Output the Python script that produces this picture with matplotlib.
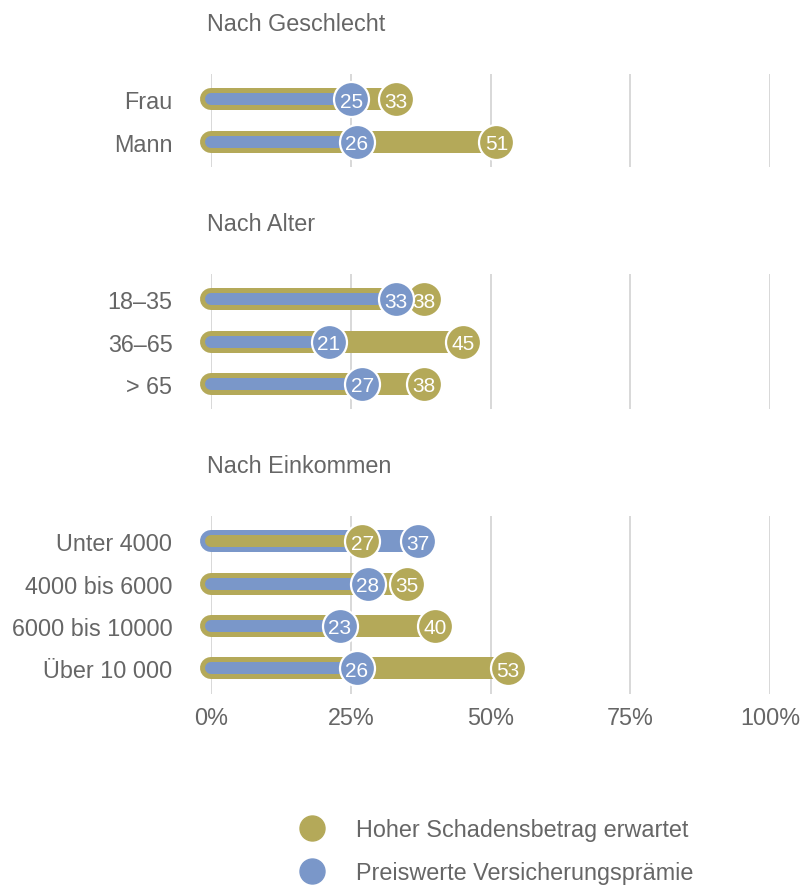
import matplotlib
matplotlib.use("Agg")
import matplotlib.pyplot as plt
from matplotlib.lines import Line2D

# --- data -----------------------------------------------------------------
group_titles = ["Nach Geschlecht", "Nach Alter", "Nach Einkommen"]
categories = [
    ["Frau", "Mann"],
    ["18–35", "36–65", "> 65"],
    ["Unter 4000", "4000 bis 6000", "6000 bis 10000", "Über 10 000"],
]
schaden = [[33, 51], [38, 45, 38], [27, 35, 40, 53]]      # Hoher Schadensbetrag erwartet
praemie = [[25, 26], [33, 21, 27], [37, 28, 23, 26]]      # Preiswerte Versicherungsprämie
series_names = ["Hoher Schadensbetrag erwartet", "Preiswerte Versicherungsprämie"]
x_ticks = [0, 25, 50, 75, 100]
x_ticklabels = ["0%", "25%", "50%", "75%", "100%"]

# --- style ----------------------------------------------------------------
GOLD = "#b4a959"
BLUE = "#7a97c9"
TEXT = "#666666"
GRID = "#d6d6d6"
FONT = "Liberation Sans"
FS = 16.8

W, H, DPI = 801, 887, 100
px = 72.0 / DPI  # points per pixel

plt.rcParams["font.family"] = [FONT, "DejaVu Sans"]

fig = plt.figure(figsize=(W / DPI, H / DPI), dpi=DPI)
fig.patch.set_facecolor("white")

x_left, x_right = 211.5, 770.0
row_px = 42.3
axes_tops = [75, 275, 517]

for g, (title, cats, gold_vals, blue_vals) in enumerate(
        zip(group_titles, categories, schaden, praemie)):
    n = len(cats)
    h_px = (n - 1 + 1.2) * row_px
    top = axes_tops[g]
    ax = fig.add_axes([x_left / W, 1 - (top + h_px) / H,
                       (x_right - x_left) / W, h_px / H])
    ax.set_xlim(0, 100)
    ax.set_ylim(n - 1 + 0.6, -0.6)
    for s in ax.spines.values():
        s.set_visible(False)
    ax.set_xticks(x_ticks)
    ax.xaxis.grid(True, color=GRID, lw=1.3, zorder=0)
    ax.set_axisbelow(True)
    ax.tick_params(length=0)
    ax.set_yticks(range(n))
    ax.set_yticklabels(cats, fontsize=FS, color=TEXT)
    ax.tick_params(axis="y", pad=39 * px)
    if g == len(group_titles) - 1:
        ax.set_xticklabels(x_ticklabels, fontsize=FS, color=TEXT)
        ax.tick_params(axis="x", pad=12 * px)
    else:
        ax.set_xticklabels([])

    for i, (gv, bv) in enumerate(zip(gold_vals, blue_vals)):
        if gv >= bv:
            big, big_c, small, small_c = gv, GOLD, bv, BLUE
        else:
            big, big_c, small, small_c = bv, BLUE, gv, GOLD
        ax.plot([0, big], [i, i], color=big_c, lw=22 * px,
                solid_capstyle="round", zorder=2, clip_on=False)
        ax.plot([0, small], [i, i], color=small_c, lw=12 * px,
                solid_capstyle="round", zorder=3, clip_on=False)
        for k, (v, c) in enumerate([(big, big_c), (small, small_c)]):
            ax.plot([v], [i], "o", ms=35 * px, color=c, mec="white",
                    mew=1.6, zorder=4 + 2 * k, clip_on=False)
            ax.text(v, i, f"{v}", ha="center", va="center_baseline",
                    color="white", fontsize=15, zorder=5 + 2 * k)

    fig.text(207 / W, 1 - (top - 53) / H, title, fontsize=FS, color=TEXT,
             ha="left", va="center_baseline")

handles = [Line2D([], [], ls="none", marker="o", ms=25 * px, color=c, mec=c)
           for c in (GOLD, BLUE)]
leg = fig.legend(handles, series_names, loc="upper left",
                 bbox_to_anchor=(300.5 / W, 1 - 819 / H), frameon=False,
                 fontsize=FS, handlelength=1.0, handletextpad=1.37,
                 labelspacing=0.86, borderpad=0, borderaxespad=0)
for t in leg.get_texts():
    t.set_color(TEXT)

fig.savefig("out.png", dpi=DPI, facecolor="white")
